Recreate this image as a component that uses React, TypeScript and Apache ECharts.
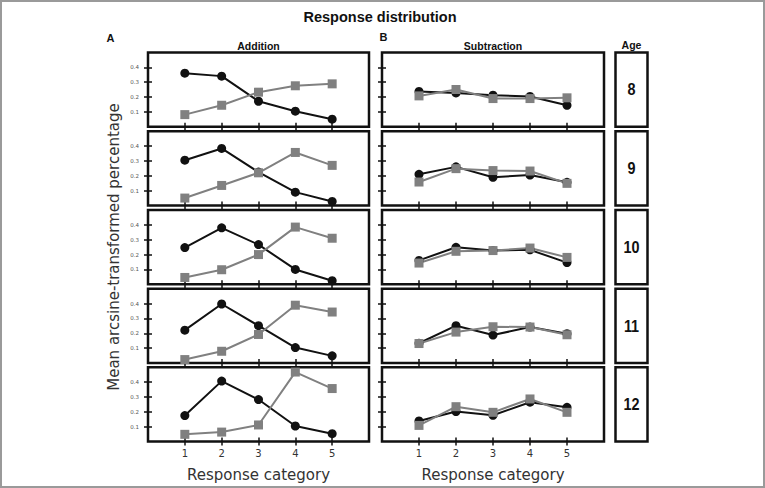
import React, { useEffect, useRef } from "react";
import * as echarts from "echarts";

// Response categories on the x axis and the tick values on the y axis
const categories = [1, 2, 3, 4, 5];
const yTicks = [0.1, 0.2, 0.3, 0.4];
const ages = ["8", "9", "10", "11", "12"];

// Mean arcsine-transformed percentage per age (rows) and response category (columns)
const additionDark = [
  [0.361, 0.341, 0.172, 0.105, 0.051],
  [0.305, 0.384, 0.225, 0.09, 0.027],
  [0.247, 0.38, 0.267, 0.1, 0.024],
  [0.221, 0.397, 0.251, 0.104, 0.048],
  [0.175, 0.407, 0.283, 0.105, 0.053],
];
const additionGray = [
  [0.082, 0.145, 0.233, 0.276, 0.289],
  [0.05, 0.135, 0.22, 0.357, 0.27],
  [0.046, 0.098, 0.2, 0.385, 0.31],
  [0.023, 0.079, 0.192, 0.389, 0.343],
  [0.049, 0.064, 0.112, 0.468, 0.357],
];
const subtractionDark = [
  [0.238, 0.228, 0.213, 0.204, 0.145],
  [0.21, 0.26, 0.19, 0.205, 0.156],
  [0.161, 0.249, 0.227, 0.232, 0.146],
  [0.133, 0.251, 0.188, 0.242, 0.197],
  [0.139, 0.202, 0.177, 0.265, 0.231],
];
const subtractionGray = [
  [0.208, 0.251, 0.19, 0.19, 0.195],
  [0.158, 0.248, 0.235, 0.232, 0.149],
  [0.143, 0.222, 0.227, 0.244, 0.181],
  [0.131, 0.208, 0.244, 0.242, 0.19],
  [0.109, 0.235, 0.197, 0.287, 0.197],
];

const W = 765;
const H = 488;
const ROW_TOPS = [52.5, 131.2, 210, 288.7, 367.3];
const ROW_H = 74.3;
const COLS = [
  { left: 148, width: 221 },
  { left: 382, width: 222 },
];
const AGE_BOX = { x: 615.5, width: 32 };
const INK = "#111";
const GRAY = "#808080";
const BOLD_FONT = "'Liberation Sans', Arial, sans-serif";
const SANS_FONT = "'DejaVu Sans', sans-serif";

function buildOption() {
  const grid: any[] = [];
  const xAxis: any[] = [];
  const yAxis: any[] = [];
  const series: any[] = [];
  const panels = [
    { dark: additionDark, gray: additionGray, labels: true },
    { dark: subtractionDark, gray: subtractionGray, labels: false },
  ];

  panels.forEach((panel, c) => {
    ROW_TOPS.forEach((top, r) => {
      const gi = grid.length;
      const isBottom = r === ROW_TOPS.length - 1;
      grid.push({
        left: COLS[c].left,
        top,
        width: COLS[c].width,
        height: ROW_H,
        show: true,
        borderColor: INK,
        borderWidth: 2.5,
        backgroundColor: "#fff",
        containLabel: false,
      });
      const tick = {
        show: true,
        inside: true,
        length: 4,
        lineStyle: { color: INK, width: 1.5 },
      };
      // bottom and top category axes
      xAxis.push({
        type: "value",
        gridIndex: gi,
        position: "bottom",
        min: 0,
        max: 6,
        interval: 1,
        axisLine: { show: false },
        splitLine: { show: false },
        axisTick: { ...tick, customValues: categories },
        axisLabel: {
          show: isBottom,
          customValues: categories,
          margin: 7,
          fontSize: 10,
          color: "#333",
          fontFamily: SANS_FONT,
        },
        name: isBottom ? "Response category" : "",
        nameLocation: "middle",
        nameGap: 26,
        nameTextStyle: { fontSize: 15, color: "#333", fontFamily: SANS_FONT },
      });
      xAxis.push({
        type: "value",
        gridIndex: gi,
        position: "top",
        min: 0,
        max: 6,
        interval: 1,
        axisLine: { show: false },
        splitLine: { show: false },
        axisTick: { ...tick, customValues: categories },
        axisLabel: { show: false },
      });
      // left and right value axes
      yAxis.push({
        type: "value",
        gridIndex: gi,
        position: "left",
        min: 0,
        max: 0.5,
        interval: 0.1,
        axisLine: { show: false },
        splitLine: { show: false },
        axisTick: { ...tick, customValues: yTicks },
        axisLabel: {
          show: panel.labels,
          customValues: yTicks,
          formatter: (v: number) => v.toFixed(1),
          margin: 9,
          fontSize: 5.5,
          color: "#555",
          fontFamily: SANS_FONT,
        },
      });
      yAxis.push({
        type: "value",
        gridIndex: gi,
        position: "right",
        min: 0,
        max: 0.5,
        interval: 0.1,
        axisLine: { show: false },
        splitLine: { show: false },
        axisTick: { ...tick, customValues: yTicks },
        axisLabel: { show: false },
      });

      const line = (vals: number[], color: string, symbol: string, size: number) => ({
        type: "line",
        xAxisIndex: gi * 2,
        yAxisIndex: gi * 2,
        data: categories.map((x, i) => [x, vals[i]]),
        symbol,
        symbolSize: size,
        showSymbol: true,
        lineStyle: { color, width: 2 },
        itemStyle: { color, borderWidth: 0 },
        emphasis: { disabled: true },
        silent: true,
      });
      series.push(line(panel.dark[r], INK, "circle", 9));
      series.push(line(panel.gray[r], GRAY, "rect", 9));
    });
  });

  const graphic: any[] = [
    {
      type: "rect",
      shape: { x: 1, y: 1, width: W - 2, height: H - 2 },
      style: { fill: "none", stroke: "#9a9a9a", lineWidth: 2 },
      silent: true,
    },
    {
      type: "text",
      x: 380,
      y: 17,
      style: {
        text: "Response distribution",
        fill: INK,
        font: `bold 14.5px ${BOLD_FONT}`,
        textAlign: "center",
        textVerticalAlign: "middle",
      },
    },
    {
      type: "text",
      x: 110.5,
      y: 38,
      style: { text: "A", fill: INK, font: `bold 11px ${BOLD_FONT}`, textAlign: "center", textVerticalAlign: "middle" },
    },
    {
      type: "text",
      x: 383.5,
      y: 37,
      style: { text: "B", fill: INK, font: `bold 11px ${BOLD_FONT}`, textAlign: "center", textVerticalAlign: "middle" },
    },
    {
      type: "text",
      x: COLS[0].left + COLS[0].width / 2,
      y: 46,
      style: { text: "Addition", fill: INK, font: `bold 10.5px ${BOLD_FONT}`, textAlign: "center", textVerticalAlign: "middle" },
    },
    {
      type: "text",
      x: COLS[1].left + COLS[1].width / 2,
      y: 46,
      style: { text: "Subtraction", fill: INK, font: `bold 10.5px ${BOLD_FONT}`, textAlign: "center", textVerticalAlign: "middle" },
    },
    {
      type: "text",
      x: AGE_BOX.x + AGE_BOX.width / 2,
      y: 45,
      style: { text: "Age", fill: INK, font: `bold 10.5px ${BOLD_FONT}`, textAlign: "center", textVerticalAlign: "middle" },
    },
    {
      type: "text",
      x: 114,
      y: 247,
      rotation: Math.PI / 2,
      style: {
        text: "Mean arcsine-transformed percentage",
        fill: "#333",
        font: `15px ${SANS_FONT}`,
        textAlign: "center",
        textVerticalAlign: "middle",
      },
    },
  ];

  ROW_TOPS.forEach((top, r) => {
    graphic.push({
      type: "rect",
      shape: { x: AGE_BOX.x, y: top, width: AGE_BOX.width, height: ROW_H },
      style: { fill: "#fff", stroke: INK, lineWidth: 2.5 },
      silent: true,
    });
    graphic.push({
      type: "text",
      x: AGE_BOX.x + AGE_BOX.width / 2,
      y: top + ROW_H / 2,
      scaleX: 0.9,
      style: {
        text: ages[r],
        fill: INK,
        font: `bold 16px ${BOLD_FONT}`,
        textAlign: "center",
        textVerticalAlign: "middle",
      },
    });
  });

  return {
    animation: false,
    backgroundColor: "#fff",
    grid,
    xAxis,
    yAxis,
    series,
    graphic,
  };
}

export default function App() {
  const ref = useRef<HTMLDivElement>(null);
  useEffect(() => {
    if (!ref.current) return;
    const chart = echarts.init(ref.current, null, { renderer: "svg", width: W, height: H });
    chart.setOption(buildOption() as any);
    return () => chart.dispose();
  }, []);
  return (
    <div
      ref={ref}
      style={{ position: "fixed", left: 0, top: 0, width: W, height: H, background: "#fff" }}
    />
  );
}
